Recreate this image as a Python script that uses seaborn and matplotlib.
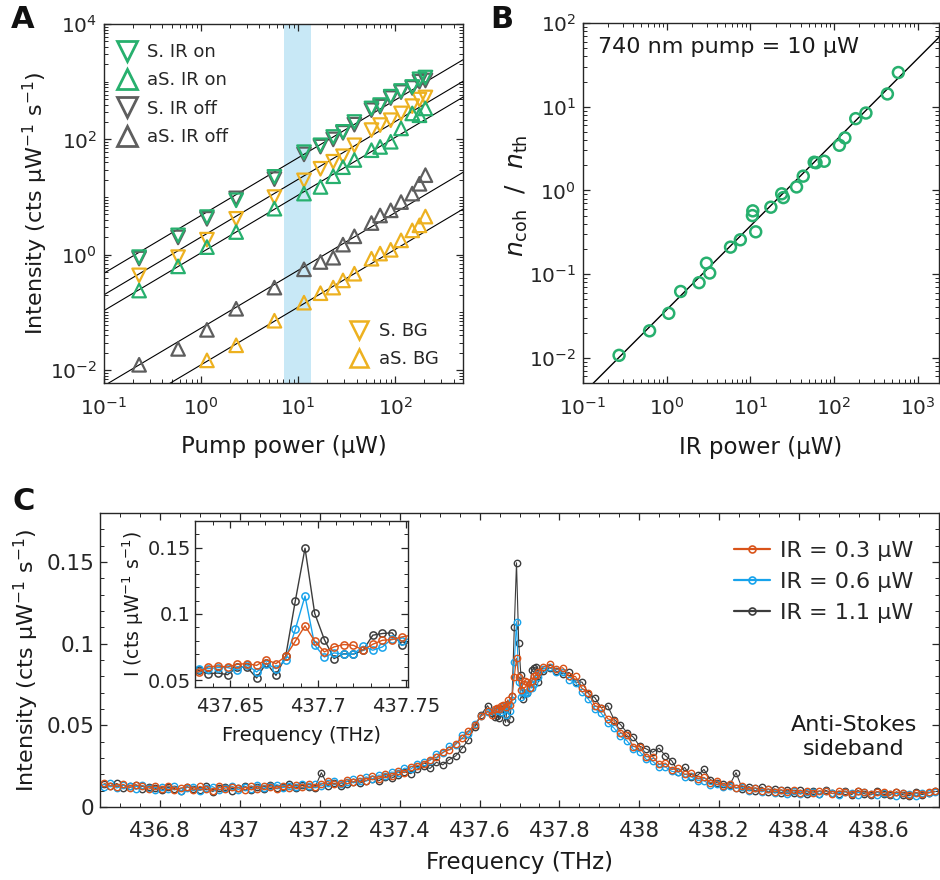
import numpy as np
import pandas as pd
import matplotlib
matplotlib.use("Agg")
import matplotlib.pyplot as plt
import seaborn as sns
from matplotlib.lines import Line2D
from matplotlib.ticker import LogLocator, MultipleLocator, FuncFormatter, NullFormatter

# ---------------- Panel A data ----------------
pump_power = [0.23, 0.58, 1.15, 2.3, 5.7, 11.5, 17, 23, 29, 38, 57, 70, 90, 115, 150, 178, 205]
s_ir_on = [0.91, 2.17, 4.5, 8.8, 22.4, 60, 79, 110, 135, 200, 344, 393, 550, 690, 810, 1100, 1180]
as_ir_on = [0.24, 0.63, 1.36, 2.48, 6.3, 11.5, 15, 23, 33, 44, 65, 74, 91, 155, 282, 262, 344]
s_ir_off = [0.86, 2.0, 4.2, 9.5, 20.5, 55, 75, 100, 130, 180, 321, 370, 520, 660, 780, 1000, 1050]
as_ir_off = [0.0124, 0.0234, 0.05, 0.116, 0.27, 0.56, 0.75, 0.89, 1.5, 2.09, 3.55, 4.8, 5.9, 8.2, 11.5, 17, 24]
s_bg = [0.44, 0.91, 1.83, 4.2, 10, 19.5, 31, 41, 51, 79, 145, 177, 215, 282, 377, 490, 533]
as_bg = [np.nan, np.nan, 0.0148, 0.027, 0.072, 0.148, 0.216, 0.27, 0.36, 0.47, 0.855, 1.05, 1.22, 1.78, 2.65, 3.24, 4.6]
fit_slopes_A = [4.8, 2.03, 1.08, 0.0537, 0.0124]   # linear fits y = a * P
band_A = [7.2, 13.5]

# ---------------- Panel B data ----------------
ir_power = [0.27, 0.625, 1.06, 1.47, 2.44, 2.99, 3.27, 5.8, 7.6, 10.7, 10.6, 11.6, 17.6,
            23.7, 24.8, 35.7, 42.9, 58, 61, 76.5, 116, 135, 182, 241, 435, 588]
n_ratio = [0.0107, 0.021, 0.034, 0.062, 0.079, 0.135, 0.103, 0.21, 0.257, 0.57, 0.50, 0.32, 0.63,
           0.91, 0.82, 1.1, 1.48, 2.17, 2.14, 2.23, 3.46, 4.24, 7.2, 8.4, 14.2, 25.6]
fit_slope_B = 0.0375

# ---------------- Panel C data (intensity in 1e-3 cts/uW/s) ----------------
freq_left = np.linspace(436.66, 437.62, 61)
freq_mid = np.linspace(437.632, 437.7475, 22)
freq_right = np.linspace(437.76, 438.74, 62)

orange_left = [14.6, 13.1, 12.4, 13.9, 11.8, 13.5, 12.9, 10.9, 12.8, 11.2,
               13.1, 10.6, 11.5, 12.4, 10.3, 12.7, 11.0, 9.9, 12.6, 10.8,
               12.2, 11.7, 10.4, 12.9, 11.1, 13.0, 12.2, 11.3, 12.9, 11.6,
               13.6, 12.0, 14.1, 12.3, 13.9, 15.7, 14.0, 14.6, 16.8, 15.1,
               17.6, 16.2, 18.9, 17.4, 20.3, 18.9, 22.2, 21.0, 24.6, 25.3,
               26.6, 29.0, 30.4, 33.5, 35.0, 38.6, 42.0, 46.5, 50.3, 55.6, 58.7]
blue_left = [12.3, 14.5, 11.6, 13.2, 12.7, 10.8, 13.3, 11.9, 10.6, 12.5,
             11.0, 12.6, 9.8, 11.9, 12.3, 10.1, 11.4, 12.5, 10.2, 11.7,
             12.8, 10.6, 12.4, 11.2, 13.5, 11.4, 12.7, 13.6, 11.8, 13.0,
             12.4, 14.2, 12.6, 13.8, 12.9, 14.4, 15.8, 14.2, 15.6, 17.0,
             16.0, 18.5, 17.1, 19.6, 19.2, 21.4, 21.0, 23.8, 23.2, 26.4,
             27.6, 28.4, 32.3, 33.0, 37.1, 38.0, 43.8, 45.0, 50.8, 56.0, 58.0]
gray_left = [13.8, 12.6, 14.4, 11.7, 12.9, 13.6, 10.8, 12.4, 11.5, 10.3,
             12.1, 11.3, 9.6, 12.4, 11.0, 10.2, 12.6, 9.4, 11.8, 12.5,
             10.0, 11.9, 12.8, 10.6, 12.3, 11.2, 13.4, 11.5, 12.1, 13.9,
             11.6, 13.3, 12.4, 11.9, 21.0, 13.1, 14.6, 13.0, 14.2, 15.4,
             14.6, 16.1, 17.2, 16.0, 18.6, 17.7, 19.5, 21.6, 20.4, 23.3,
             24.9, 23.6, 27.4, 25.8, 29.0, 31.2, 35.8, 41.2, 49.0, 56.5, 62.0]

orange_mid = [56.3, 60.1, 60.8, 60.1, 62.1, 62.6, 61.3, 65.6, 62.6, 68.1,
              79.5, 91.1, 79.5, 71.4, 75.2, 77.0, 76.4, 72.7, 77.2, 80.2, 80.7, 82.7]
blue_mid = [58.8, 58.8, 59.6, 59.6, 58.0, 61.8, 56.3, 62.6, 58.8, 65.6,
            88.5, 113.5, 76.5, 67.6, 70.7, 69.7, 69.7, 75.7, 72.7, 75.2, 81.5, 79.7]
gray_mid = [57.6, 55.0, 55.5, 54.3, 60.0, 60.0, 51.8, 63.0, 53.8, 68.0,
            110.0, 149.5, 100.4, 80.7, 66.4, 70.0, 69.7, 72.7, 84.0, 85.3, 85.8, 76.5]

orange_right = [85.8, 87.4, 84.2, 85.3, 80.0, 79.9, 72.6, 70.1, 62.0, 60.9,
                54.1, 52.5, 45.6, 44.2, 37.0, 36.9, 30.8, 30.9, 26.2, 26.9,
                22.9, 23.7, 20.0, 20.6, 17.4, 18.2, 14.9, 15.9, 13.1, 14.2,
                11.8, 12.9, 10.7, 11.8, 9.8, 11.1, 9.2, 10.6, 8.9, 10.2,
                8.6, 10.1, 8.4, 9.9, 9.6, 8.2, 9.8, 9.3, 8.1, 9.7,
                9.2, 7.9, 9.4, 8.9, 7.7, 9.1, 8.6, 7.5, 8.8, 8.2, 9.0, 9.5]
blue_right = [84.7, 85.6, 82.4, 82.6, 77.8, 76.2, 70.4, 66.0, 60.1, 57.5,
              51.5, 48.3, 43.2, 40.6, 35.3, 33.8, 29.2, 28.0, 24.6, 24.5,
              21.8, 21.3, 18.4, 18.7, 16.2, 16.1, 13.7, 14.0, 12.3, 12.9,
              11.4, 12.0, 10.0, 11.5, 9.2, 10.8, 8.6, 10.2, 8.2, 9.9,
              8.0, 9.4, 9.1, 7.8, 9.6, 8.4, 7.6, 9.3, 8.7, 7.5,
              9.0, 8.2, 7.1, 8.7, 8.0, 7.0, 8.5, 7.7, 6.9, 8.4, 8.6, 9.2]
gray_right = [83.0, 85.3, 83.1, 81.5, 82.4, 76.4, 76.5, 69.4, 67.0, 60.8,
              62.0, 53.5, 50.5, 45.6, 42.8, 37.2, 35.6, 33.5, 36.0, 31.4,
              28.2, 21.6, 24.2, 18.6, 19.4, 23.0, 16.8, 14.9, 13.8, 13.4,
              21.0, 10.9, 12.5, 9.8, 12.2, 9.1, 11.1, 8.6, 10.4, 8.4,
              10.3, 8.1, 9.9, 7.8, 10.2, 8.3, 8.0, 9.8, 7.6, 10.1,
              8.1, 7.4, 9.5, 7.7, 7.2, 9.3, 7.5, 6.9, 9.0, 7.6, 8.7, 9.6]

c_labels = ["IR = 0.3 μW", "IR = 0.6 μW", "IR = 1.1 μW"]

# ---------------- style ----------------
GREEN = "#27b06e"
YELLOW = "#edb120"
GRAY_A = "#5e5e5e"
C_ORANGE = "#d95319"
C_BLUE = "#17a3ec"
C_GRAY = "#3c3c3c"
AX_COL = "#262626"

sns.set_theme(style="white")
plt.rcParams["font.family"] = ["DejaVu Sans"]
plt.rcParams["mathtext.fontset"] = "dejavusans"
plt.rcParams["axes.unicode_minus"] = True

W, H = 940, 880
fig = plt.figure(figsize=(W / 100, H / 100), dpi=100)


def box(l, t, r, b):
    return [l / W, 1 - b / H, (r - l) / W, (b - t) / H]


def style(ax, fs, xpad, ypad):
    for s in ax.spines.values():
        s.set_visible(True)
        s.set_color(AX_COL)
        s.set_linewidth(1.0)
    ax.tick_params(which="both", direction="in", top=True, right=True, bottom=True, left=True,
                   colors=AX_COL, labelcolor=AX_COL, labelsize=fs)
    ax.tick_params(which="major", length=5, width=0.9)
    ax.tick_params(which="minor", length=2.8, width=0.7)
    ax.tick_params(axis="x", which="both", pad=xpad)
    ax.tick_params(axis="y", which="both", pad=ypad)


def log_axis(axis, base):
    axis.set_major_locator(LogLocator(base=base, numticks=20))
    axis.set_minor_locator(LogLocator(base=10, subs=np.arange(1, 10), numticks=100))
    axis.set_minor_formatter(NullFormatter())


# ================= Panel A =================
axA = fig.add_axes(box(104, 24, 463, 383))
axA.set_xscale("log")
axA.set_yscale("log")
axA.axvspan(band_A[0], band_A[1], color="#c8e8f6", lw=0, zorder=0)

xfit = np.array([0.1, 500.0])
for a in fit_slopes_A:
    sns.lineplot(x=xfit, y=a * xfit, ax=axA, color="black", lw=0.8, zorder=2)

seriesA = [
    (s_ir_off, "v", GRAY_A), (as_ir_off, "^", GRAY_A),
    (s_bg, "v", YELLOW), (as_bg, "^", YELLOW),
    (s_ir_on, "v", GREEN), (as_ir_on, "^", GREEN),
]
for vals, mk, col in seriesA:
    sns.scatterplot(x=pump_power, y=vals, ax=axA, marker=mk, s=95, facecolor="none",
                    edgecolor=col, linewidth=1.6, zorder=3)

axA.set_xlim(0.1, 500)
axA.set_ylim(0.006, 1e4)
log_axis(axA.xaxis, 10)
log_axis(axA.yaxis, 100)
style(axA, 14.5, 10, 5)
axA.set_xlabel("Pump power (μW)", fontsize=16.5, color="#1a1a1a")
axA.set_ylabel("Intensity (cts μW$^{-1}$ s$^{-1}$)", fontsize=16, color="#1a1a1a")
axA.xaxis.set_label_coords(0.5, -0.145)
axA.yaxis.set_label_coords(-0.15, 0.5)

hA = [Line2D([], [], ls="none", marker="v", ms=14, mfc="none", mec=GREEN, mew=2),
      Line2D([], [], ls="none", marker="^", ms=14, mfc="none", mec=GREEN, mew=2),
      Line2D([], [], ls="none", marker="v", ms=14, mfc="none", mec=GRAY_A, mew=2),
      Line2D([], [], ls="none", marker="^", ms=14, mfc="none", mec=GRAY_A, mew=2)]
legA = axA.legend(hA, ["S. IR on", "aS. IR on", "S. IR off", "aS. IR off"], loc="upper left",
                  bbox_to_anchor=(117 / W, 1 - 43 / H), bbox_transform=fig.transFigure,
                  frameon=False, fontsize=13, handlelength=1.1, handletextpad=0.55,
                  labelspacing=0.57, borderpad=0, borderaxespad=0)
axA.add_artist(legA)
hB = [Line2D([], [], ls="none", marker="v", ms=13, mfc="none", mec=YELLOW, mew=1.8),
      Line2D([], [], ls="none", marker="^", ms=13, mfc="none", mec=YELLOW, mew=1.8)]
axA.legend(hB, ["S. BG", "aS. BG"], loc="upper left",
           bbox_to_anchor=(349 / W, 1 - 322 / H), bbox_transform=fig.transFigure,
           frameon=False, fontsize=13, handlelength=1.1, handletextpad=0.55,
           labelspacing=0.55, borderpad=0, borderaxespad=0)

# ================= Panel B =================
axB = fig.add_axes(box(583, 23, 939, 383))
axB.set_xscale("log")
axB.set_yscale("log")
xfb = np.array([0.1, 3000.0])
sns.lineplot(x=xfb, y=fit_slope_B * xfb, ax=axB, color="black", lw=1.0, zorder=2)
sns.scatterplot(x=ir_power, y=n_ratio, ax=axB, marker="o", s=62, facecolor="none",
                edgecolor=GREEN, linewidth=1.8, zorder=3)
axB.set_xlim(0.1, 1800)
axB.set_ylim(0.005, 100)
log_axis(axB.xaxis, 10)
log_axis(axB.yaxis, 10)
style(axB, 14.5, 10, 5)
axB.set_xlabel("IR power (μW)", fontsize=16.5, color="#1a1a1a")
axB.set_ylabel("$n_{\\rm coh}$  /  $n_{\\rm th}$", fontsize=18, color="#1a1a1a")
axB.xaxis.set_label_coords(0.5, -0.147)
axB.yaxis.set_label_coords(-0.15, 0.52)
axB.text(598 / W, 1 - 47 / H, "740 nm pump = 10 μW", transform=fig.transFigure,
         fontsize=16, va="center", ha="left", color="#1a1a1a")

# ================= Panel C =================
freq_all = np.concatenate([freq_left, freq_mid, freq_right])
orange_all = np.array(orange_left + orange_mid + orange_right) * 1e-3
blue_all = np.array(blue_left + blue_mid + blue_right) * 1e-3
gray_all = np.array(gray_left + gray_mid + gray_right) * 1e-3

fmt = FuncFormatter(lambda v, p: f"{v:.3f}".rstrip("0").rstrip("."))

axC = fig.add_axes(box(100, 513, 939, 807))
for vals, col in [(gray_all, C_GRAY), (blue_all, C_BLUE), (orange_all, C_ORANGE)]:
    sns.lineplot(x=freq_all, y=vals, ax=axC, color=col, lw=0.8, marker="o", markersize=4.6,
                 markerfacecolor="none", markeredgecolor=col, markeredgewidth=1.0,
                 estimator=None, sort=False)
axC.set_xlim(436.65, 438.75)
axC.set_ylim(0, 0.18)
axC.xaxis.set_major_locator(MultipleLocator(0.2))
axC.xaxis.set_minor_locator(MultipleLocator(0.05))
axC.yaxis.set_major_locator(MultipleLocator(0.05))
axC.yaxis.set_minor_locator(MultipleLocator(0.01))
axC.xaxis.set_major_formatter(fmt)
axC.yaxis.set_major_formatter(fmt)
style(axC, 15.5, 10, 4)
axC.set_xlabel("Frequency (THz)", fontsize=16.5, color="#1a1a1a")
axC.set_ylabel("Intensity (cts μW$^{-1}$ s$^{-1}$)", fontsize=16, color="#1a1a1a")
axC.xaxis.set_label_coords(0.5, -0.15)
axC.yaxis.set_label_coords(-0.07, 0.5)

hC = [Line2D([], [], color=c, lw=1.6, marker="o", ms=5, mfc="none", mec=c, mew=1.2)
      for c in (C_ORANGE, C_BLUE, C_GRAY)]
axC.legend(hC, c_labels, loc="upper left", bbox_to_anchor=(734 / W, 1 - 541 / H),
           bbox_transform=fig.transFigure, frameon=False, fontsize=16, handlelength=1.6,
           handletextpad=0.45, labelspacing=0.49, borderpad=0, borderaxespad=0)
axC.text(854 / W, 1 - 737 / H, "Anti-Stokes\nsideband", transform=fig.transFigure,
         fontsize=16, ha="center", va="center", color="#1a1a1a", linespacing=1.3)

# inset
axI = fig.add_axes(box(195, 521, 408, 687))
axI.set_facecolor("white")
for vals, col in [(gray_all, C_GRAY), (blue_all, C_BLUE), (orange_all, C_ORANGE)]:
    sns.lineplot(x=freq_all, y=vals, ax=axI, color=col, lw=1.0, marker="o", markersize=5.2,
                 markerfacecolor="none", markeredgecolor=col, markeredgewidth=1.1,
                 estimator=None, sort=False)
axI.set_xlim(437.63, 437.751)
axI.set_ylim(0.045, 0.17)
axI.xaxis.set_major_locator(MultipleLocator(0.05))
axI.xaxis.set_minor_locator(MultipleLocator(0.01))
axI.yaxis.set_major_locator(MultipleLocator(0.05))
axI.yaxis.set_minor_locator(MultipleLocator(0.01))
axI.xaxis.set_major_formatter(fmt)
axI.yaxis.set_major_formatter(fmt)
style(axI, 14, 7, 3)
axI.set_xlabel("Frequency (THz)", fontsize=14, color="#1a1a1a")
axI.set_ylabel("I (cts μW$^{-1}$ s$^{-1}$)", fontsize=13.5, color="#1a1a1a")
axI.xaxis.set_label_coords(0.5, -0.235)
axI.yaxis.set_label_coords(-0.23, 0.5)

# panel letters
for txt, x, y in [("A", 23, 20), ("B", 502, 20), ("C", 24, 501)]:
    fig.text(x / W, 1 - y / H, txt, fontsize=22, fontweight="bold", ha="center", va="center",
             color="#111111")

fig.savefig("out.png", dpi=100)
